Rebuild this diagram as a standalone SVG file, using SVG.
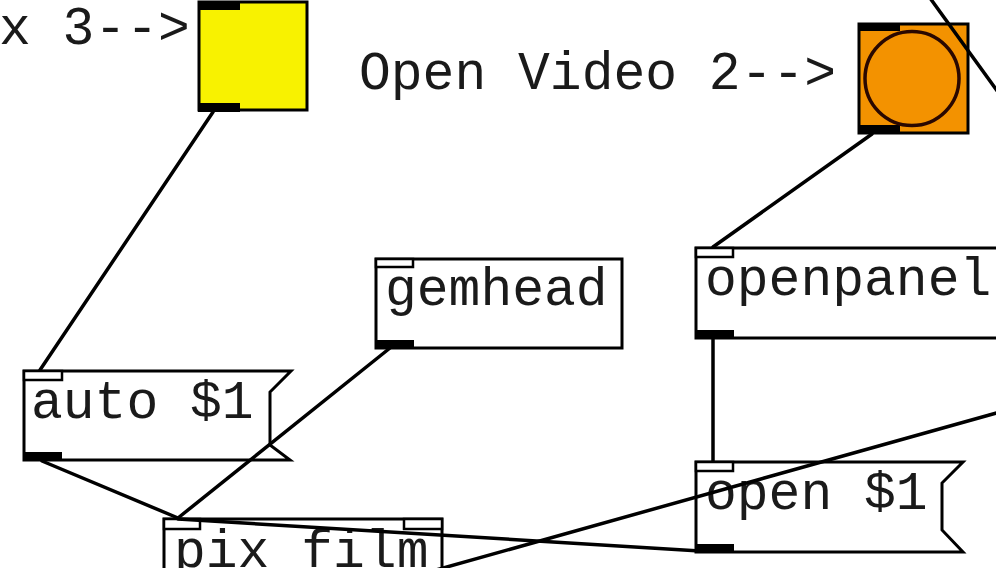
<svg xmlns="http://www.w3.org/2000/svg" width="996" height="568" viewBox="0 0 996 568">
<style>
.box{fill:#fff;stroke:#000;stroke-width:3}
.io{fill:#fff;stroke:#000;stroke-width:2.5}
.out{fill:#000}
.t{font-family:"Liberation Mono","Courier New",monospace;font-size:53px;fill:#1a1a1a}
.c{stroke:#000;stroke-width:3.5;fill:none;stroke-linecap:round}
</style>
<rect width="996" height="568" fill="#fff"/>
<g id="comment1"><text class="t" x="-1" y="44">x 3--&gt;</text></g>
<g id="comment2"><text class="t" x="359" y="89">Open Video 2--&gt;</text></g>
<g id="bang1">
<rect x="199" y="2" width="108" height="108" fill="#f8f200" stroke="#000" stroke-width="3"/>
<rect class="out" x="198" y="1" width="42" height="9"/>
<rect class="out" x="198" y="103" width="42" height="9"/>
</g>
<g id="bang2">
<rect x="859" y="24" width="109" height="109" fill="#f39200" stroke="#000" stroke-width="3"/>
<rect class="out" x="858" y="23" width="42" height="8"/>
<rect class="out" x="858" y="125" width="42" height="8"/>
<circle cx="912" cy="78.5" r="47" fill="#f39200" stroke="#2a0800" stroke-width="3.5"/>
</g>
<g id="gemhead">
<rect class="box" x="376" y="259" width="246" height="89"/>
<rect class="io" x="376" y="259" width="37" height="8"/>
<rect class="out" x="375" y="340" width="39" height="9"/>
<text class="t" x="385" y="305">gemhead</text>
</g>
<g id="openpanel">
<rect class="box" x="696" y="248" width="310" height="90"/>
<rect class="io" x="696" y="248" width="37" height="9"/>
<rect class="out" x="695" y="330" width="39" height="9"/>
<text class="t" x="705" y="295">openpanel</text>
</g>
<g id="auto">
<polygon class="box" points="24,371 291,371 270,392 270,445 290,460 24,460"/>
<rect class="io" x="24" y="371" width="38" height="9"/>
<rect class="out" x="23" y="452" width="39" height="9"/>
<text class="t" x="31" y="418">auto $1</text>
</g>
<g id="open">
<polygon class="box" points="696,462 963,462 942,483 942,530 963,552 696,552"/>
<rect class="io" x="696" y="462" width="37" height="9"/>
<rect class="out" x="695" y="544" width="39" height="9"/>
<text class="t" x="705" y="509">open $1</text>
</g>
<g id="pixfilm">
<rect class="box" x="164" y="519" width="278" height="80"/>
<rect class="io" x="164" y="519" width="36" height="10"/>
<rect class="io" x="404" y="519" width="38" height="10"/>
<text class="t" x="174" y="567">pix film</text>
</g>
<g id="connectors">
<line class="c" x1="213" y1="112" x2="40" y2="370"/>
<line class="c" x1="872" y1="134" x2="713" y2="247"/>
<line class="c" x1="713" y1="338" x2="713" y2="461"/>
<line class="c" x1="390" y1="348" x2="178" y2="518"/>
<line class="c" x1="42" y1="461" x2="178" y2="518"/>
<line class="c" x1="700" y1="551" x2="178" y2="519"/>
<line class="c" x1="1000" y1="412" x2="436" y2="570"/>
<line class="c" x1="930" y1="-2" x2="998" y2="92"/>
</g>
</svg>
